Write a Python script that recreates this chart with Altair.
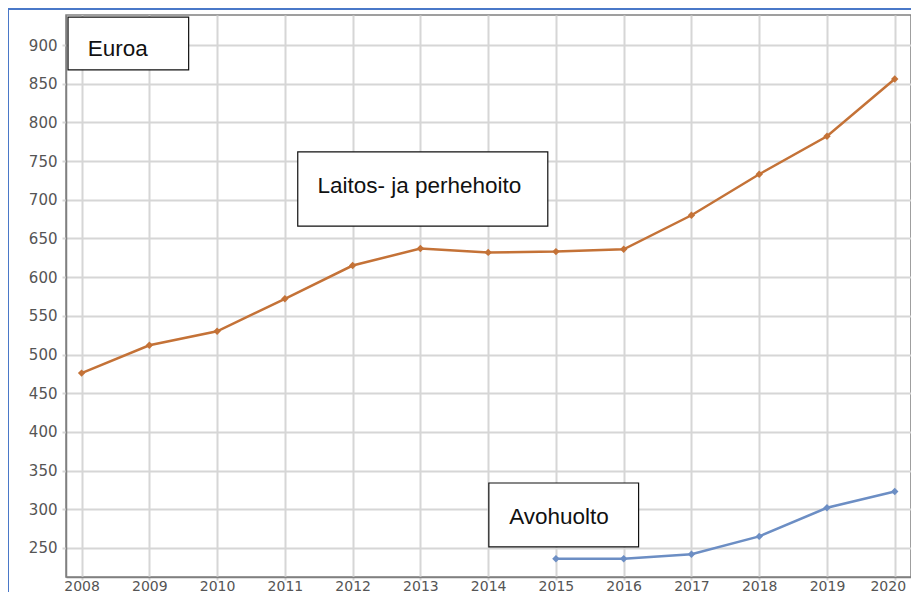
import altair as alt
import pandas as pd

years_a = [2008, 2009, 2010, 2011, 2012, 2013, 2014, 2015, 2016, 2017, 2018, 2019, 2020]
laitos = [476, 512, 530, 572, 615, 637, 632, 633, 636, 680, 733, 782, 856]
years_b = [2015, 2016, 2017, 2018, 2019, 2020]
avohuolto = [236, 236, 242, 265, 302, 323]

box_labels = ["Euroa", "Laitos- ja perhehoito", "Avohuolto"]
box_x1 = [2007.80, 2011.19, 2014.01]
box_x2 = [2009.58, 2014.88, 2016.22]
box_y1 = [936.0, 762.0, 334.0]
box_y2 = [868.0, 666.0, 251.5]
text_x = [2008.09, 2011.48, 2014.31]
text_y = [895.0, 718.0, 290.0]

ORANGE = "#c47237"
BLUE = "#6c8ec4"

df = pd.concat([
    pd.DataFrame({"year": years_a, "value": laitos, "series": "Laitos- ja perhehoito"}),
    pd.DataFrame({"year": years_b, "value": avohuolto, "series": "Avohuolto"}),
])
boxes = pd.DataFrame({"label": box_labels, "x1": box_x1, "x2": box_x2,
                      "y1": box_y1, "y2": box_y2, "tx": text_x, "ty": text_y})

xsc = alt.Scale(domain=[2007.77, 2020.24], nice=False, zero=False)
ysc = alt.Scale(domain=[212.5, 938.8], nice=False, zero=False)

xaxis = alt.Axis(values=years_a, format="d", labelFont="DejaVu Sans", labelFontSize=14,
                 labelColor="#555555", gridColor="#d6d6d6", gridWidth=2,
                 tickColor="#d6d6d6", tickWidth=2, tickSize=3, labelPadding=10,
                 labelBaseline="alphabetic",
                 labelOffset={"condition": {"test": "datum.value == 2020", "value": -7}, "value": 0},
                 domainColor="#808080", domainWidth=1.5, title=None)
yaxis = alt.Axis(values=list(range(250, 901, 50)), labelFont="DejaVu Sans", labelFontSize=15,
                 labelColor="#555555", gridColor="#d6d6d6", gridWidth=2,
                 tickColor="#d6d6d6", tickWidth=2, tickSize=4, labelPadding=5,
                 domainColor="#808080", domainWidth=1.5, title=None)

frame = alt.Chart(pd.DataFrame({"k": [0]})).mark_rect(
    fill=None, stroke="#4a78c8", strokeWidth=2, clip=False
).encode(x=alt.value(-58), x2=alt.value(880), y=alt.value(-6), y2=alt.value(620))

lines = alt.Chart(df).mark_line(
    strokeWidth=2.5,
    point=alt.OverlayMarkDef(shape="diamond", size=55, filled=True),
).encode(
    x=alt.X("year:Q", scale=xsc, axis=xaxis),
    y=alt.Y("value:Q", scale=ysc, axis=yaxis),
    color=alt.Color("series:N", scale=alt.Scale(
        domain=["Laitos- ja perhehoito", "Avohuolto"], range=[ORANGE, BLUE]), legend=None),
)

rects = alt.Chart(boxes).mark_rect(fill="white", stroke="#111111", strokeWidth=1.2).encode(
    x=alt.X("x1:Q", scale=xsc), x2="x2:Q",
    y=alt.Y("y1:Q", scale=ysc), y2="y2:Q",
)
texts = alt.Chart(boxes).mark_text(
    align="left", baseline="middle", font="Liberation Sans", fontSize=22.5, color="#111111"
).encode(
    x=alt.X("tx:Q", scale=xsc), y=alt.Y("ty:Q", scale=ysc), text="label:N"
)

chart = alt.layer(lines, rects, texts, frame).properties(
    width=845, height=562,
    autosize=alt.AutoSizeParams(type="none"),
    padding={"left": 58, "top": 7, "right": 0, "bottom": 15},
).configure_view(stroke="#808080", strokeWidth=1.5)

chart.save("out.html", embed_options={"renderer": "svg", "actions": False})
